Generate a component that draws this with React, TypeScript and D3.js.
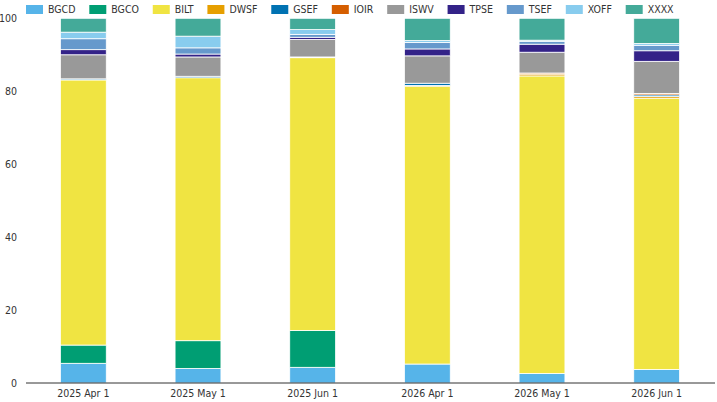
import * as d3 from 'd3';
import { useEffect, useRef } from 'react';

const categories = ['2025 Apr 1', '2025 May 1', '2025 Jun 1', '2026 Apr 1', '2026 May 1', '2026 Jun 1'];
const keys = ['BGCD', 'BGCO', 'BILT', 'DWSF', 'GSEF', 'IOIR', 'ISWV', 'TPSE', 'TSEF', 'XOFF', 'XXXX'];
const colors = ['#56B4E9', '#009E73', '#F0E442', '#E69F00', '#0072B2', '#D55E00', '#999999', '#332288', '#6699CC', '#88CCEE', '#44AA99'];

// one array per series, in category order
const BGCD = [5.4, 4.0, 4.3, 5.2, 2.6, 3.7];
const BGCO = [5.0, 7.6, 10.1, 0, 0, 0];
const BILT = [72.7, 72.1, 74.8, 76.2, 81.6, 74.4];
const DWSF = [0, 0, 0.2, 0.2, 0.5, 0.5];
const GSEF = [0.3, 0.4, 0, 0.6, 0, 0.4];
const IOIR = [0, 0, 0, 0, 0.3, 0.4];
const ISWV = [6.6, 5.3, 4.8, 7.5, 5.7, 8.8];
const TPSE = [1.4, 0.8, 0.6, 1.9, 2.2, 2.9];
const TSEF = [3.0, 1.7, 0.8, 1.8, 0.8, 1.5];
const XOFF = [1.8, 3.2, 1.3, 0.5, 0.3, 0.5];
const XXXX = [3.8, 4.9, 3.1, 6.1, 6.0, 6.9];

const series: Record<string, number[]> = { BGCD, BGCO, BILT, DWSF, GSEF, IOIR, ISWV, TPSE, TSEF, XOFF, XXXX };
const yTicks = [0, 20, 40, 60, 80, 100];

const FONT = "'DejaVu Sans Condensed', 'DejaVu Sans', sans-serif";

export default function App() {
    const ref = useRef<any>();
    const width = 717;
    const height = 402;
    const margin = { top: 18, right: 3, bottom: 19, left: 26 };

    useEffect(() => {
        document.body.style.margin = '0';
        const svg = d3.select(ref.current);
        svg.selectAll('*').remove();
        svg.attr('width', width).attr('height', height);

        const rows = categories.map((c, i) => {
            const r: any = { cat: c };
            keys.forEach(k => { r[k] = series[k][i]; });
            return r;
        });

        const x = d3.scaleBand().domain(categories)
            .range([margin.left, width - margin.right])
            .paddingInner(0.6).paddingOuter(0.3);
        const y = d3.scaleLinear().domain([0, 100]).range([height - margin.bottom, margin.top + 0.3]);
        const color = d3.scaleOrdinal<string>().domain(keys).range(colors);

        const stacked = d3.stack().keys(keys)(rows);

        svg.append('g').selectAll('g').data(stacked).join('g')
            .attr('fill', (d: any) => color(d.key))
            .selectAll('rect').data((d: any) => d).join('rect')
            .attr('x', (d: any) => x(d.data.cat))
            .attr('width', x.bandwidth())
            .attr('y', (d: any) => y(d[1]))
            .attr('height', (d: any) => Math.max(0, y(d[0]) - y(d[1])))
            .attr('stroke', '#fff')
            .attr('stroke-width', (d: any) => (d[1] - d[0] > 0 ? 0.8 : 0));

        // x axis
        const xAxis = svg.append('g').attr('transform', `translate(0,${height - margin.bottom})`);
        xAxis.append('line').attr('x1', margin.left).attr('x2', width - 2)
            .attr('stroke', '#333').attr('stroke-width', 1);
        xAxis.selectAll('text').data(categories).join('text')
            .attr('x', (d: any) => (x(d) as number) + x.bandwidth() / 2)
            .attr('y', 14)
            .attr('text-anchor', 'middle')
            .attr('font-family', FONT).attr('font-size', 10.5).attr('fill', '#333')
            .text((d: any) => d);

        // y axis labels only
        svg.append('g').selectAll('text').data(yTicks).join('text')
            .attr('x', 17)
            .attr('y', (d: any) => y(d))
            .attr('dy', '0.35em')
            .attr('text-anchor', 'end')
            .attr('font-family', FONT).attr('font-size', 10.5).attr('fill', '#333')
            .text((d: any) => d);

        // legend
        const legend = svg.append('g');
        let lx = 26;
        keys.forEach((k, i) => {
            const item = legend.append('g').attr('transform', `translate(${lx},5)`);
            item.append('rect').attr('width', 17).attr('height', 9).attr('fill', colors[i]);
            const t = item.append('text').attr('x', 22).attr('y', 4.5).attr('dy', '0.35em')
                .attr('font-family', FONT).attr('font-size', 10.5).attr('fill', '#333')
                .text(k);
            const w = (t.node() as any).getComputedTextLength();
            lx += 22 + w + 13.8;
        });
    }, []);

    return <svg ref={ref} style={{ display: 'block' }}></svg>;
}
